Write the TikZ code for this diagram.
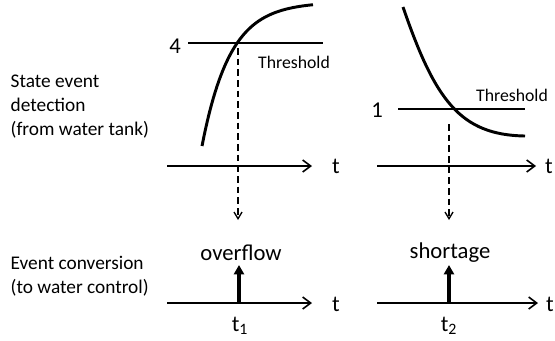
\documentclass[tikz,border=0pt]{standalone}
\usepackage{fontspec}
\setmainfont{Carlito}
\usetikzlibrary{arrows.meta}

\begin{document}
\begin{tikzpicture}[x=0.75pt,y=-0.75pt,
  axis/.style={line width=1.2pt,-{Straight Barb[length=6pt,width=9pt]}},
  level/.style={line width=0.9pt},
  signal/.style={line width=2.2pt},
  drop/.style={line width=1pt,dash pattern=on 5pt off 3pt,-{Straight Barb[length=5pt,width=6pt]}},
  impulse/.style={line width=2.6pt,-{Triangle[length=7pt,width=7.5pt]}},
  big/.style={font=\fontsize{17}{20}\selectfont},
  small/.style={font=\fontsize{13.3}{16}\selectfont},
  side/.style={font=\fontsize{14.5}{18}\selectfont,align=left,anchor=west}]

\useasboundingbox (0,0) rectangle (555,340);

% Side labels
\node[side] (lbl1) at (6,107) {State event\\detection\\(from water tank)};
\node[side] (lbl2) at (6,276) {Event conversion\\(to water control)};

% Axes
\coordinate (a1) at (167,166);  \coordinate (e1) at (312,166);
\coordinate (a2) at (377,166);  \coordinate (e2) at (536,166);
\coordinate (b1) at (167,303);  \coordinate (f1) at (312,303);
\coordinate (b2) at (377,303);  \coordinate (f2) at (538,303);
\draw[axis] (a1) -- (e1);
\draw[axis] (a2) -- (e2);
\draw[axis] (b1) -- (f1);
\draw[axis] (b2) -- (f2);
\node[big] (t1) at (336,166) {t};
\node[big] (t2) at (549,166) {t};
\node[big] (t3) at (336,304) {t};
\node[big] (t4) at (550,304) {t};

% Thresholds
\coordinate (h1a) at (188,43);  \coordinate (h1b) at (323,43);
\coordinate (h2a) at (398,109); \coordinate (h2b) at (525,109);
\draw[level] (h1a) -- (h1b);
\draw[level] (h2a) -- (h2b);
\node[big] (v1) at (175,46) {4};
\node[big] (v2) at (377,110) {1};
\node[small] (th1) at (294,62) {Threshold};
\node[small] (th2) at (512,95) {Threshold};

% Signals
\draw[signal] plot[domain=202:313,samples=60] (\x,{2+144*exp(-(\x-202)/28)});
\draw[signal] (403,7) .. controls (435,100) and (460,135) .. (525,136);

% Crossings
\coordinate (c1) at (238,48);
\coordinate (c2) at (449,124);
\coordinate (d1) at (238,220);
\coordinate (d2) at (449,220);
\draw[drop] (c1) -- (d1);
\draw[drop] (c2) -- (d2);

% Events
\coordinate (p1) at (239,303);  \coordinate (q1) at (239,265);
\coordinate (p2) at (449,303);  \coordinate (q2) at (449,265);
\draw[impulse] (p1) -- (q1);
\draw[impulse] (p2) -- (q2);
\node[big] (ev1) at (241,253) {overflow};
\node[big] (ev2) at (450,253) {shortage};
\node[big] (s1) at (240,326) {t\textsubscript{1}};
\node[big] (s2) at (449,326) {t\textsubscript{2}};

\end{tikzpicture}
\end{document}
